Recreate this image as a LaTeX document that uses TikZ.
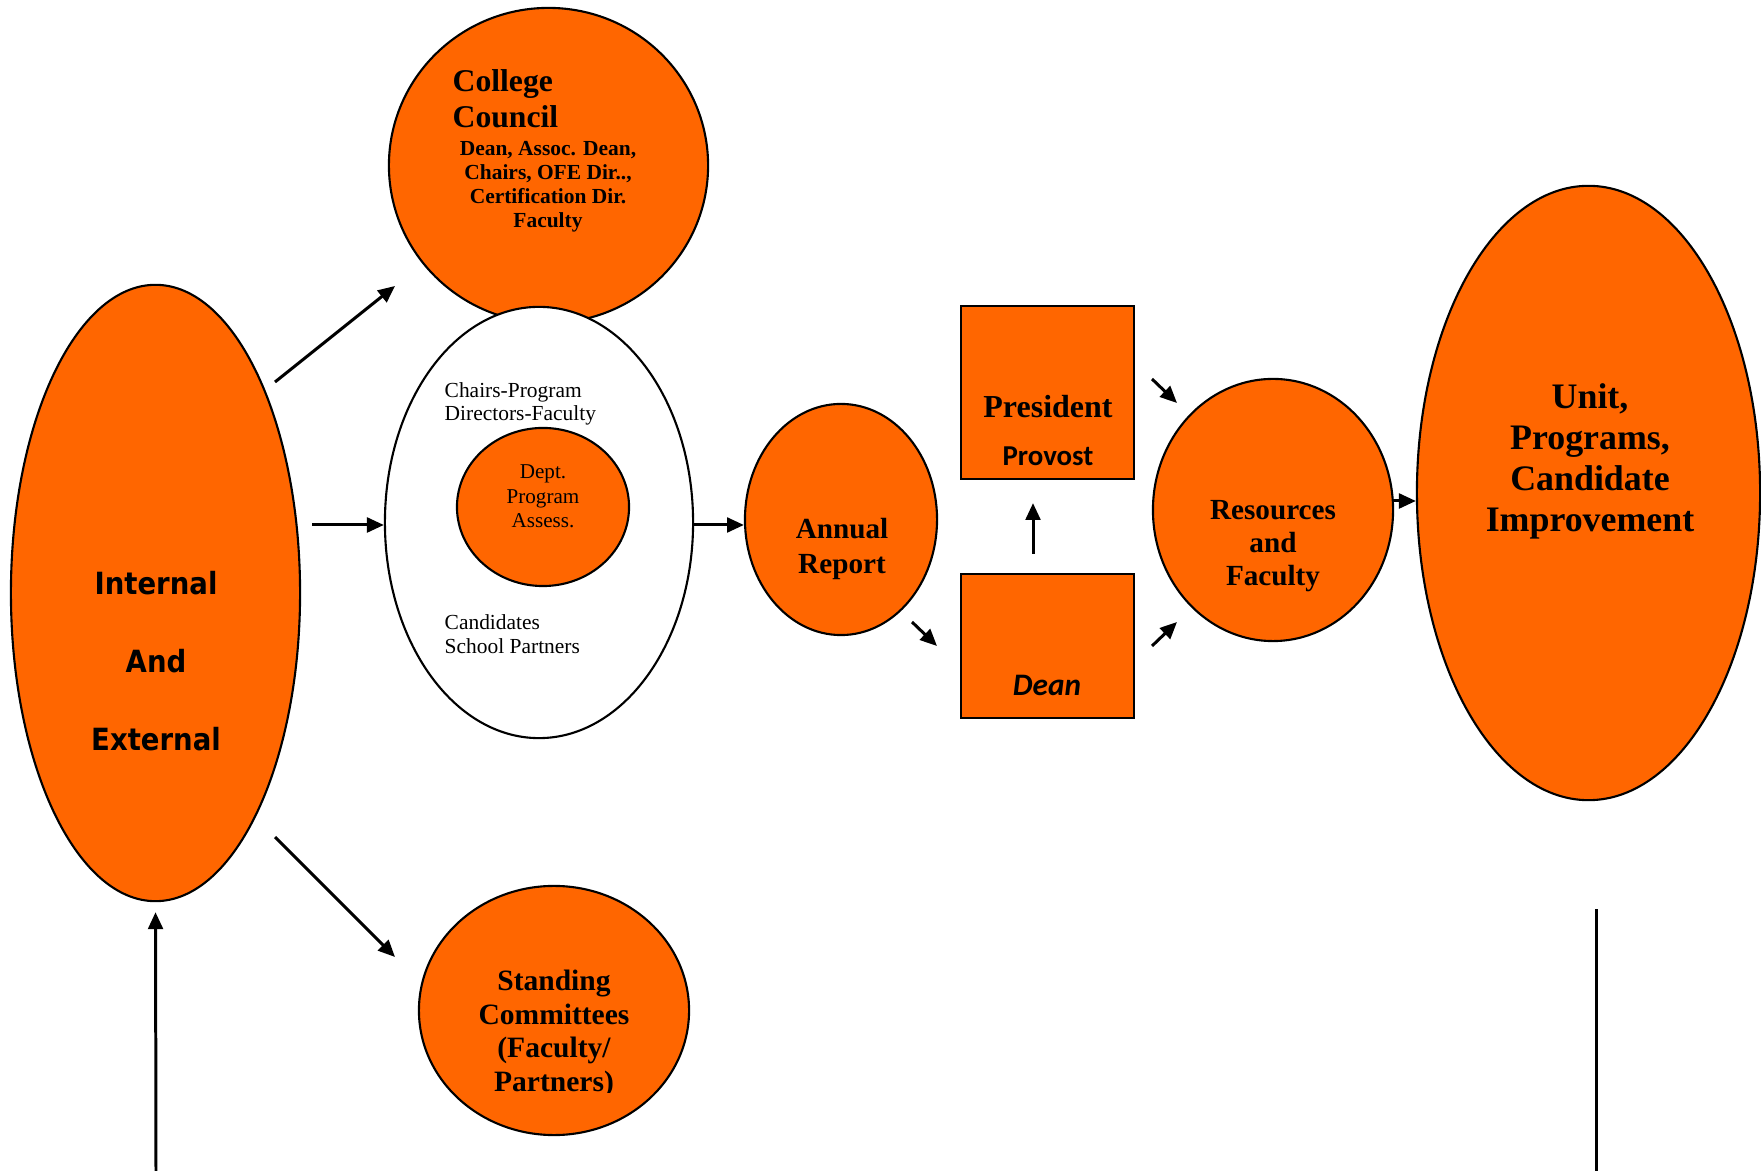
\documentclass[tikz,border=0pt]{standalone}
\usepackage{fontspec}
\setmainfont{Liberation Serif}
\newfontfamily\vsans[FakeStretch=0.9]{DejaVu Sans}
\newfontfamily\csans{Carlito}
\usetikzlibrary{shapes.geometric,arrows.meta,calc}

\definecolor{unitorange}{RGB}{255,102,0}

\tikzset{
  blob/.style={ellipse, draw, fill=unitorange, line width=0.6pt, inner sep=0pt},
  ring/.style={ellipse, draw, fill=white, line width=0.6pt, inner sep=0pt},
  boxnode/.style={rectangle, draw, fill=unitorange, line width=0.6pt, inner sep=0pt},
  lbl/.style={inner sep=0pt, anchor=base, align=center},
  arr/.style={-{Triangle[length=4.8pt,width=4.2pt]}, line width=0.85pt},
}

\begin{document}
\begin{tikzpicture}[x=0.01cm,y=-0.01cm]
\useasboundingbox (0,0) rectangle (1761,1171);

% shapes
\node[blob, minimum width=2.89cm, minimum height=6.16cm] (inext) at (155.5,593) {};
\node[blob, minimum width=3.19cm, minimum height=3.15cm] (council) at (548.5,165.5) {};
\node[ring, minimum width=3.08cm, minimum height=4.31cm] (reps) at (539,522.5) {};
\node[blob, minimum width=1.72cm, minimum height=1.58cm] (dept) at (543,507) {};
\node[blob, minimum width=2.70cm, minimum height=2.49cm] (standing) at (554,1010.5) {};
\node[blob, minimum width=1.92cm, minimum height=2.31cm] (annual) at (841,519.5) {};
\node[boxnode, minimum width=1.73cm, minimum height=1.73cm] (president) at (1047.5,392.5) {};
\node[boxnode, minimum width=1.73cm, minimum height=1.44cm] (dean) at (1047.5,646) {};
\node[blob, minimum width=2.40cm, minimum height=2.62cm] (resources) at (1273,510) {};
\node[blob, minimum width=3.43cm, minimum height=6.14cm] (improve) at (1588.5,493) {};

% texts (placed at the baseline of their last line)
\node[lbl, font=\vsans\bfseries\fontsize{8.7}{22.3}\selectfont] (ie-txt) at (156,751) {Internal\\And\\External};
\node[lbl, anchor=base west, align=left, font=\bfseries\fontsize{9}{10.5}\selectfont] (cc-txt) at (452,128) {College\\Council};
\node[lbl, font=\bfseries\fontsize{6.1}{6.83}\selectfont] (cc-sub) at (548,228) {Dean, Assoc. Dean,\\Chairs, OFE Dir..,\\Certification Dir.\\Faculty};
\node[lbl, anchor=base west, align=left, font=\fontsize{6.1}{6.8}\selectfont] (rp-top) at (444,421) {Chairs-Program\\Directors-Faculty};
\node[lbl, font=\fontsize{6}{7.1}\selectfont] (dp-txt) at (543,528) {Dept.\\Program\\Assess.};
\node[lbl, anchor=base west, align=left, font=\fontsize{6.1}{7}\selectfont] (rp-bot) at (444,654) {Candidates\\School Partners};
\begin{scope}
  \clip (400,880) rectangle (710,1092);
  \node[lbl, font=\bfseries\fontsize{8.4}{9.5}\selectfont] (sc-txt) at (554,1091) {Standing\\Committees\\(Faculty/\\Partners)};
\end{scope}
\node[lbl, font=\bfseries\fontsize{8.3}{10}\selectfont] (ar-txt) at (842,574) {Annual\\Report};
\node[lbl, font=\bfseries\fontsize{9.1}{11}\selectfont] (pr-txt) at (1048,418) {President};
\node[lbl, font=\csans\bfseries\fontsize{8.2}{10}\selectfont] (pv-txt) at (1048,466) {Provost};
\node[lbl, font=\csans\bfseries\itshape\fontsize{8.9}{10}\selectfont] (dn-txt) at (1047,696) {Dean};
\node[lbl, font=\bfseries\fontsize{8.3}{9.4}\selectfont] (rs-txt) at (1273,586) {Resources\\and\\Faculty};
\node[lbl, font=\bfseries\fontsize{10.2}{11.7}\selectfont] (im-txt) at (1590,532) {Unit,\\Programs,\\Candidate\\Improvement};

% arrow ends
\coordinate (ie-up) at (275,382);
\coordinate (cc-in) at (395,286);
\coordinate (ie-mid) at (312,525);
\coordinate (ie-dn) at (275,837);
\coordinate (sc-in) at (395,957);
\coordinate (ar-out) at (912,622);
\coordinate (dn-in) at (937,646);
\coordinate (dn-up) at (1033,554);
\coordinate (pr-out) at (1152,379);
\coordinate (rs-in1) at (1177,403);
\coordinate (dn-out) at (1152,646);
\coordinate (rs-in2) at (1177,622);
\coordinate (rs-out) at (1393,501);
\coordinate (foot-l) at (156,1171);
\coordinate (foot-r) at (1596,1171);
\coordinate (tail-r) at (1596,909);

% connectors
\draw[arr] (ie-up) -- (cc-in);
\draw[arr] (ie-mid) -- (ie-mid -| reps.west);
\draw[arr] (ie-dn) -- (sc-in);
\draw[arr] (reps.east |- ie-mid) -- (ie-mid -| annual.west);
\draw[arr] (ar-out) -- (dn-in);
\draw[arr, shorten >=0.23cm] (dn-up) -- (dn-up |- president.south);
\draw[arr] (pr-out) -- (rs-in1);
\draw[arr] (dn-out) -- (rs-in2);
\draw[arr] (rs-out) -- (rs-out -| improve.west);
\draw[arr, shorten >=0.1cm] (foot-l) -- (inext.south);
\draw[line width=0.85pt] (foot-r) -- (tail-r);

\end{tikzpicture}
\end{document}
